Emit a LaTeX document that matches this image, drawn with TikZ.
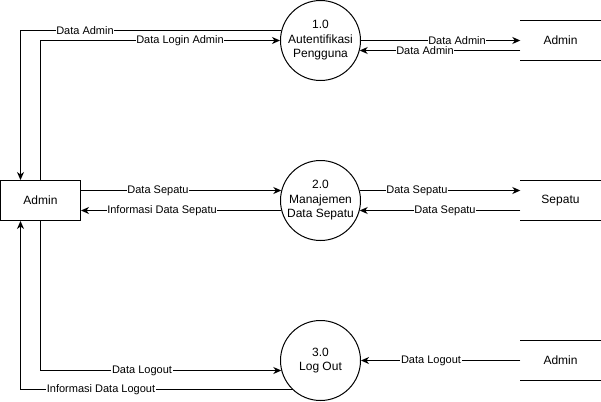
\documentclass[tikz,border=0pt]{standalone}
\usepackage{fontspec}
\setmainfont{Liberation Sans}
\usetikzlibrary{arrows.meta,calc}
\begin{document}
\begin{tikzpicture}[x=1pt,y=-1pt,
  proc/.style={draw,circle,minimum size=80pt,inner sep=0pt,align=center,font=\fontsize{12}{14.5}\selectfont,line width=1pt},
  ent/.style={draw,rectangle,minimum width=80pt,minimum height=40pt,inner sep=0pt,font=\fontsize{12}{14}\selectfont,line width=1pt},
  store/.style={minimum width=80pt,minimum height=40pt,inner sep=0pt,font=\fontsize{12}{14}\selectfont},
  storeline/.style={line width=1pt},
  flow/.style={line width=1pt,-{Stealth[length=8pt,width=7pt,inset=2.5pt]}},
  lbl/.style={fill=white,inner sep=0.6pt,font=\fontsize{11}{13}\selectfont}]
\useasboundingbox (0,0) rectangle (601,401);
% entity
\node[ent] (adm) at (40.5,200.5) {Admin};
% processes
\node[proc] (p1) at (320.5,40.5) {1.0\\Autentifikasi\\Pengguna};
\node[proc] (p2) at (320.5,200.5) {2.0\\Manajemen\\Data Sepatu};
\node[proc] (p3) at (320.5,360.5) {3.0\\Log Out};
% stores
\node[store] (s1) at (560.5,40.5) {Admin};
\node[store] (s2) at (560.5,200.5) {Sepatu};
\node[store] (s3) at (560.5,360.5) {Admin};
\foreach \s in {s1,s2,s3}{
  \draw[storeline] (\s.north west) -- (\s.north east);
  \draw[storeline] (\s.south west) -- (\s.south east);
}
% left flows
\draw[flow] ($(p1.center)+(-39.2,-10)$) -| ([xshift=-20pt]adm.north);
\draw[flow] (adm.north) |- (p1.west);
\draw[flow] ([yshift=10pt]adm.east) -- ($(p2.center)+(-39.2,-10)$);
\draw[flow] ($(p2.center)+(-39.2,10)$) -- ([yshift=-10pt]adm.east);
\draw[flow] (adm.south) |- ($(p3.center)+(-39.2,10)$);
\draw[flow] ($(p3.center)+(-28,29)$) -| ([xshift=-20pt]adm.south);
% right flows
\draw[flow] (p1.east) -- (s1.west);
\draw[flow] ([yshift=-10pt]s1.west) -- ($(p1.center)+(39.2,10)$);
\draw[flow] ($(p2.center)+(39.2,-10)$) -- ([yshift=10pt]s2.west);
\draw[flow] ([yshift=-10pt]s2.west) -- ($(p2.center)+(39.2,10)$);
\draw[flow] (s3.west) -- (p3.east);
% labels
\node[lbl] (l1) at (85,30.5) {Data Admin};
\node[lbl] (l2) at (180,40.5) {Data Login Admin};
\node[lbl] (l3) at (158,190.5) {Data Sepatu};
\node[lbl] (l4) at (162,210.5) {Informasi Data Sepatu};
\node[lbl] (l5) at (142,370.5) {Data Logout};
\node[lbl] (l6) at (101,389.5) {Informasi Data Logout};
\node[lbl] (r1) at (457,40.5) {Data Admin};
\node[lbl] (r2) at (425,51) {Data Admin};
\node[lbl] (r3) at (417,190.5) {Data Sepatu};
\node[lbl] (r4) at (445,210.5) {Data Sepatu};
\node[lbl] (r5) at (431,360.5) {Data Logout};
\end{tikzpicture}
\end{document}
